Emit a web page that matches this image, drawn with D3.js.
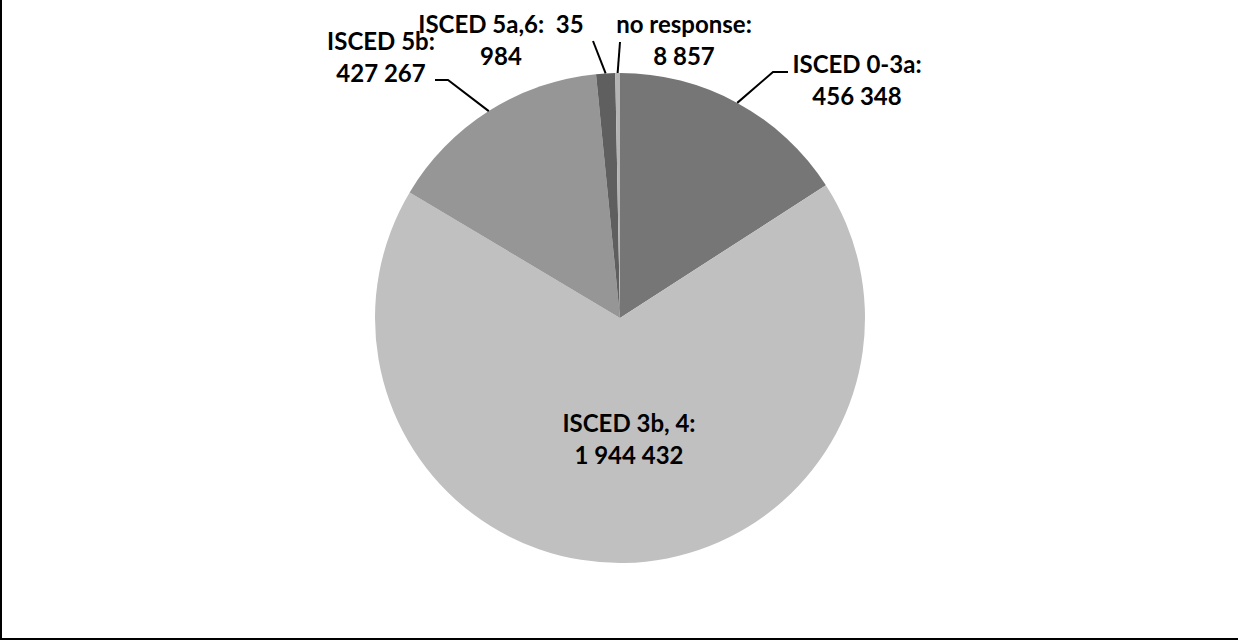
<!DOCTYPE html>
<html>
<head>
<meta charset="utf-8">
<script src="https://cdn.jsdelivr.net/npm/d3@7"></script>
<style>
  html, body { margin: 0; padding: 0; background: #fff; }
  svg { display: block; }
  text { font-family: Lato, "Open Sans", sans-serif; font-weight: 700; fill: #000; }
</style>
</head>
<body>
<svg id="chart" width="1238" height="640"></svg>
<script>
// ---- data ----
const categories = ["ISCED 0-3a", "ISCED 3b, 4", "ISCED 5b", "ISCED 5a,6", "no response"];
const values = [456348, 1944432, 427267, 35984, 8857];
const labelLines = [
  ["ISCED 0-3a:", "456 348"],
  ["ISCED 3b, 4:", "1 944 432"],
  ["ISCED 5b:", "427 267"],
  ["ISCED 5a,6:  35", "984"],
  ["no response:", "8 857"]
];
const colors = ["#767676", "#c0c0c0", "#969696", "#5f5f5f", "#b4b4b4"];

// ---- layout ----
const W = 1238, H = 640;
const cx = 620, cy = 318, R = 245;
const fontSize = 24, lineGap = 32;
// label anchor (center x, first baseline y) and leader elbow points
const labelPos = [
  {x: 857, y: 73, elbow: [[773, 72], [788, 72]]},
  {x: 629, y: 432, elbow: null},
  {x: 381, y: 50, elbow: [[448, 80], [435, 80]]},
  {x: 501, y: 33, elbow: [[593, 41]]},
  {x: 684, y: 33, elbow: [[620, 42]]}
];

const svg = d3.select("#chart");

// frame (left and bottom edges visible)
svg.append("line").attr("x1", 1).attr("y1", 0).attr("x2", 1).attr("y2", H)
  .attr("stroke", "#000").attr("stroke-width", 2);
svg.append("line").attr("x1", 0).attr("y1", H - 1).attr("x2", W).attr("y2", H - 1)
  .attr("stroke", "#000").attr("stroke-width", 2);

const pie = d3.pie().sort(null).value(d => d)(values);
const arc = d3.arc().innerRadius(0).outerRadius(R);

const g = svg.append("g").attr("transform", `translate(${cx},${cy})`);
g.selectAll("path.slice").data(pie).join("path")
  .attr("class", "slice")
  .attr("d", arc)
  .attr("fill", (d, i) => colors[i]);

// leader lines
pie.forEach((d, i) => {
  const p = labelPos[i];
  if (!p.elbow) return;
  const a = (d.startAngle + d.endAngle) / 2;
  const start = [cx + R * Math.sin(a), cy - R * Math.cos(a)];
  const pts = [start, ...p.elbow];
  svg.append("path")
    .attr("d", d3.line()(pts))
    .attr("fill", "none")
    .attr("stroke", "#000")
    .attr("stroke-width", 2);
});

// labels
labelLines.forEach((lines, i) => {
  const p = labelPos[i];
  const t = svg.append("text")
    .attr("text-anchor", "middle")
    .attr("font-size", fontSize);
  lines.forEach((s, j) => {
    t.append("tspan").attr("x", p.x).attr("y", p.y + j * lineGap)
      .attr("xml:space", "preserve")
      .style("white-space", "pre")
      .text(s);
  });
});
</script>
</body>
</html>
